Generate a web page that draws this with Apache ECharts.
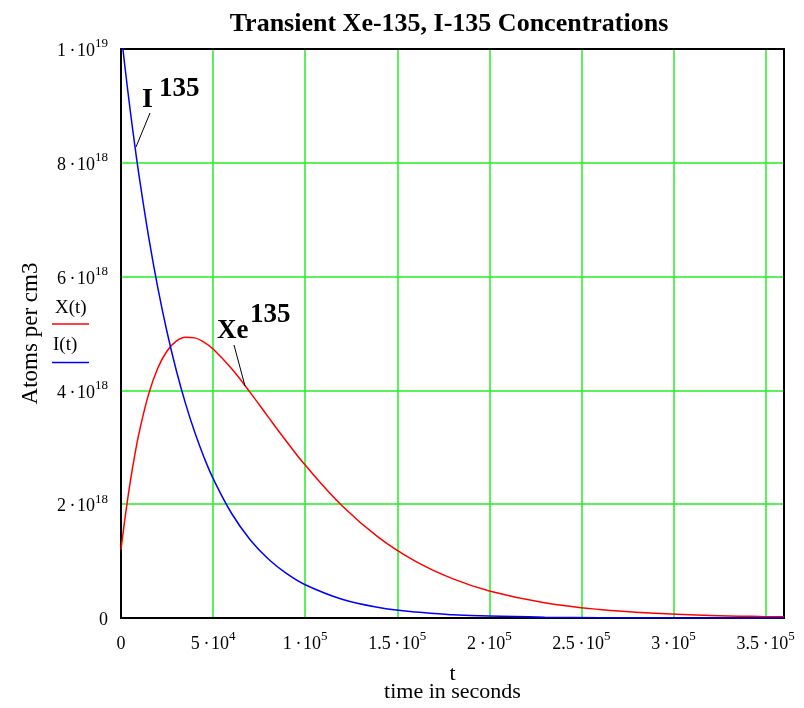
<!DOCTYPE html>
<html>
<head>
<meta charset="utf-8">
<script src="https://cdn.jsdelivr.net/npm/echarts@6/dist/echarts.min.js"></script>
<style>
html,body{margin:0;padding:0;background:#fff;}
#chart{width:804px;height:708px;}
</style>
</head>
<body>
<div id="chart"></div>
<script>
// time in seconds
const tSeconds = [0, 2500, 5000, 7500, 10000, 15000, 20000, 25000, 30000, 35000, 40000, 45000, 50000,
  60000, 70000, 80000, 90000, 100000, 120000, 140000, 160000, 180000, 200000, 230000, 260000,
  290000, 320000, 350000, 360000];
// X(t): Xe-135 concentration (atoms per cm3)
const xenon = [1.20e18, 1.833e18, 2.387e18, 2.867e18, 3.281e18, 3.935e18, 4.395e18, 4.693e18, 4.865e18,
  4.934e18, 4.923e18, 4.849e18, 4.727e18, 4.384e18, 3.970e18, 3.530e18, 3.097e18, 2.687e18,
  1.973e18, 1.414e18, 0.996e18, 0.692e18, 0.476e18, 0.268e18, 0.149e18, 0.082e18, 0.045e18,
  0.024e18, 0.020e18];
// I(t): I-135 concentration (atoms per cm3)
const iodine = [10.30e18, 9.587e18, 8.923e18, 8.305e18, 7.730e18, 6.697e18, 5.802e18, 5.026e18, 4.354e18,
  3.772e18, 3.268e18, 2.831e18, 2.453e18, 1.841e18, 1.381e18, 1.037e18, 0.778e18, 0.584e18,
  0.329e18, 0.185e18, 0.104e18, 0.059e18, 0.033e18, 0.014e18, 0.006e18, 0.0025e18, 0.0011e18,
  0.0005e18, 0.0003e18];
// tick labels: mantissa|exponent
const xTickLabels = ['0', '5|4', '1|5', '1.5|5', '2|5', '2.5|5', '3|5', '3.5|5'];
const yTickLabels = ['0', '2|18', '4|18', '6|18', '8|18', '1|19'];

const FONT = '"Liberation Serif", "Times New Roman", serif';
const chart = echarts.init(document.getElementById('chart'), null, {renderer: 'canvas'});

function fmt(labels, step) {
  return function (v) {
    const idx = Math.round(v / step);
    if (Math.abs(idx * step - v) > step * 1e-6) return '';
    const s = labels[idx];
    if (s === undefined) return '';
    if (s.indexOf('|') < 0) return '{b|' + s + '}';
    const p = s.split('|');
    return '{b|' + p[0] + '\u2009\u00b7\u200a10}{s|' + p[1] + '}';
  };
}
const rich = {
  b: {fontFamily: FONT, fontSize: 18, lineHeight: 23, color: '#000', verticalAlign: 'bottom'},
  s: {fontFamily: FONT, fontSize: 13, lineHeight: 13, color: '#000', verticalAlign: 'top'}
};

const green = '#22ee22';
const option = {
  animation: false,
  backgroundColor: '#fff',
  textStyle: {fontFamily: FONT},
  title: {
    text: 'Transient Xe-135, I-135 Concentrations',
    left: 444, top: 6, textAlign: 'center',
    textStyle: {fontFamily: FONT, fontSize: 26, fontWeight: 'bold', color: '#000'}
  },
  grid: {left: 121, right: 20, top: 49, bottom: 87, containLabel: false},
  xAxis: [{
    type: 'value', position: 'bottom', min: 0, max: 360000, interval: 50000,
    axisLine: {show: true, onZero: false, lineStyle: {color: '#000', width: 2}},
    axisTick: {show: false},
    splitLine: {show: true, showMinLine: false, showMaxLine: false, lineStyle: {color: green, width: 1.5}},
    axisLabel: {margin: 12, showMaxLabel: false, formatter: fmt(xTickLabels, 50000), rich: rich},
    name: 't\ntime in seconds', nameLocation: 'middle', nameGap: 47,
    nameTextStyle: {fontFamily: FONT, fontSize: 22, lineHeight: 18, color: '#000'}
  }, {
    type: 'value', position: 'top', min: 0, max: 360000,
    axisLine: {show: true, onZero: false, lineStyle: {color: '#000', width: 2}},
    axisTick: {show: false}, axisLabel: {show: false}, splitLine: {show: false}
  }],
  yAxis: [{
    type: 'value', position: 'left', min: 0, max: 1e19, interval: 2e18,
    axisLine: {show: true, onZero: false, lineStyle: {color: '#000', width: 2}},
    axisTick: {show: false},
    splitLine: {show: true, showMinLine: false, showMaxLine: false, lineStyle: {color: green, width: 1.5}},
    axisLabel: {margin: 13, formatter: fmt(yTickLabels, 2e18), rich: rich},
    name: 'Atoms per cm3', nameLocation: 'middle', nameGap: 79, nameRotate: 90,
    nameTextStyle: {fontFamily: FONT, fontSize: 23, color: '#000'}
  }, {
    type: 'value', position: 'right', min: 0, max: 1e19,
    axisLine: {show: true, onZero: false, lineStyle: {color: '#000', width: 2}},
    axisTick: {show: false}, axisLabel: {show: false}, splitLine: {show: false}
  }],
  series: [{
    name: 'X(t)', type: 'line', xAxisIndex: 0, yAxisIndex: 0,
    data: tSeconds.map((t, i) => [t, xenon[i]]),
    showSymbol: false, smooth: 0.4, clip: true,
    lineStyle: {color: '#ff0000', width: 1.5}, itemStyle: {color: '#ff0000'}
  }, {
    name: 'I(t)', type: 'line', xAxisIndex: 0, yAxisIndex: 0,
    data: tSeconds.map((t, i) => [t, iodine[i]]),
    showSymbol: false, smooth: 0.4, clip: true,
    lineStyle: {color: '#0000ff', width: 1.5}, itemStyle: {color: '#0000ff'}
  }],
  graphic: [
    // legend
    {type: 'text', x: 55, y: 308.5, z: 100, style: {text: 'X(t)', font: '19px ' + FONT, fill: '#000', textVerticalAlign: 'middle', verticalAlign: 'middle'}},
    {type: 'line', z: 100, shape: {x1: 52, y1: 324, x2: 89, y2: 324}, style: {stroke: '#ff0000', lineWidth: 1.5}},
    {type: 'text', x: 53, y: 345, z: 100, style: {text: 'I(t)', font: '19px ' + FONT, fill: '#000', textVerticalAlign: 'middle', verticalAlign: 'middle'}},
    {type: 'line', z: 100, shape: {x1: 52, y1: 362.5, x2: 89, y2: 362.5}, style: {stroke: '#0000ff', lineWidth: 1.5}},
    // annotations
    {type: 'text', x: 142, y: 99.5, z: 100, style: {text: 'I', font: 'bold 28px ' + FONT, fill: '#000', textVerticalAlign: 'middle', verticalAlign: 'middle'}},
    {type: 'text', x: 159, y: 89, z: 100, style: {text: '135', font: 'bold 27px ' + FONT, fill: '#000', textVerticalAlign: 'middle', verticalAlign: 'middle'}},
    {type: 'line', z: 100, shape: {x1: 150, y1: 113, x2: 136, y2: 147}, style: {stroke: '#000', lineWidth: 1}},
    {type: 'text', x: 217, y: 331, z: 100, style: {text: 'Xe', font: 'bold 27px ' + FONT, fill: '#000', textVerticalAlign: 'middle', verticalAlign: 'middle'}},
    {type: 'text', x: 250, y: 315, z: 100, style: {text: '135', font: 'bold 27px ' + FONT, fill: '#000', textVerticalAlign: 'middle', verticalAlign: 'middle'}},
    {type: 'line', z: 100, shape: {x1: 234, y1: 345, x2: 245, y2: 386}, style: {stroke: '#000', lineWidth: 1}}
  ]
};
chart.setOption(option);
</script>
</body>
</html>
